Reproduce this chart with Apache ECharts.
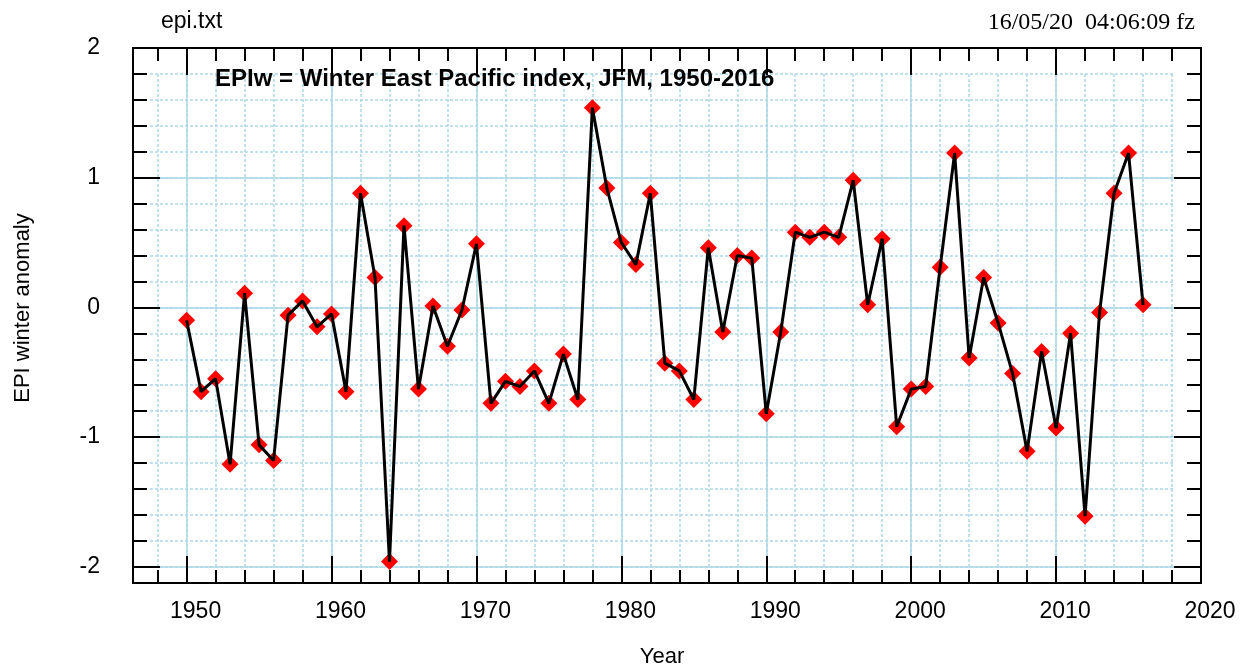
<!DOCTYPE html>
<html>
<head>
<meta charset="utf-8">
<script src="https://cdn.jsdelivr.net/npm/echarts@6/dist/echarts.min.js"></script>
<style>
html,body{margin:0;padding:0;background:#ffffff;}
#c{width:1242px;height:669px;}
</style>
</head>
<body>
<div id="c"></div>
<script>
// ---- data ----
const years = [1950,1951,1952,1953,1954,1955,1956,1957,1958,1959,
               1960,1961,1962,1963,1964,1965,1966,1967,1968,1969,
               1970,1971,1972,1973,1974,1975,1976,1977,1978,1979,
               1980,1981,1982,1983,1984,1985,1986,1987,1988,1989,
               1990,1991,1992,1993,1994,1995,1996,1997,1998,1999,
               2000,2001,2002,2003,2004,2005,2006,2007,2008,2009,
               2010,2011,2012,2013,2014,2015,2016];
const epiValues = [-0.10,-0.65,-0.55,-1.21,0.11,-1.06,-1.18,-0.06,0.05,-0.15,
                   -0.05,-0.65,0.88,0.23,-1.96,0.63,-0.63,0.01,-0.30,-0.02,
                   0.49,-0.74,-0.57,-0.61,-0.49,-0.74,-0.36,-0.71,1.54,0.92,
                   0.50,0.33,0.88,-0.43,-0.49,-0.71,0.46,-0.19,0.40,0.38,
                   -0.82,-0.19,0.58,0.54,0.58,0.54,0.98,0.02,0.53,-0.92,
                   -0.63,-0.61,0.31,1.19,-0.39,0.23,-0.12,-0.51,-1.11,-0.34,
                   -0.93,-0.20,-1.61,-0.04,0.88,1.19,0.02];
const xTickLabels = ['1950','1960','1970','1980','1990','2000','2010','2020'];
const yTickLabels = ['-2','-1','0','1','2'];
const fileLabel = 'epi.txt';
const stampLabel = '16/05/20  04:06:09 fz';
const titleText = 'EPIw = Winter East Pacific index, JFM, 1950-2016';
const xName = 'Year';
const yName = 'EPI winter anomaly';

// ---- layout ----
const W = 1242, H = 669;
const X_MIN = 1946.3, X_MAX = 2020, Y_MIN = -2.125, Y_MAX = 2;
const L = 133, R = 41, T = 48, B = 86;
const pw = W - L - R, ph = H - T - B;
const px = v => L + (v - X_MIN) / (X_MAX - X_MIN) * pw;
const py = v => T + (Y_MAX - v) / (Y_MAX - Y_MIN) * ph;

const FONT = '"Liberation Sans", Arial, Helvetica, sans-serif';
const SERIF = '"Liberation Serif", "Times New Roman", serif';
const GRIDC = '#add8e6';
const tickLine = {color:'#000', width:2};

const hLeft = 150, hRight = W - 1174;
const gTop = py(1.8), gBottom = H - py(-2);

const chart = echarts.init(document.getElementById('c'), null, {renderer:'canvas'});

const pts = years.map((y, i) => [y, epiValues[i]]);

function mainX(pos, step, len, withLabels) {
  return {
    type:'value', gridIndex:0, position:pos, min:X_MIN, max:X_MAX,
    minInterval:step, maxInterval:step,
    axisLine:{show:false, onZero:false}, splitLine:{show:false},
    axisTick:{show:true, inside:true, length:len, lineStyle:tickLine},
    axisLabel: withLabels ? {
      show:true, margin:17, fontFamily:FONT, fontSize:23, color:'#000',
      padding:[0,0,0,18], showMinLabel:true, showMaxLabel:true,
      formatter: v => xTickLabels.includes(String(v)) ? String(v) : ''
    } : {show:false}
  };
}
function mainY(pos, step, len, withLabels) {
  return {
    type:'value', gridIndex:0, position:pos, min:Y_MIN, max:Y_MAX,
    minInterval:step, maxInterval:step,
    axisLine:{show:false, onZero:false}, splitLine:{show:false},
    axisTick:{show:true, inside:true, length:len, lineStyle:tickLine},
    axisLabel: withLabels ? {
      show:true, margin:33, fontFamily:FONT, fontSize:23, color:'#000',
      showMinLabel:true, showMaxLabel:true,
      formatter: v => yTickLabels.includes(String(v)) ? String(v) : ''
    } : {show:false}
  };
}
function dummy(g) {
  return {type:'value', gridIndex:g, min:0, max:1, show:false};
}
function lineAxis(g, min, max, interval, dotted) {
  return {
    type:'value', gridIndex:g, min:min, max:max, interval:interval,
    axisLine:{show:false, onZero:false}, axisTick:{show:false}, axisLabel:{show:false},
    splitLine:{show:true, lineStyle:{color:GRIDC, width:1.5, type: dotted ? [3,2] : 'solid'}}
  };
}

const option = {
  animation:false,
  backgroundColor:'#ffffff',
  grid:[
    {left:L, right:R, top:T, bottom:B, show:true, borderColor:'#000', borderWidth:2, backgroundColor:'transparent', outerBoundsMode:'none', z:5},
    {left:hLeft, right:hRight, top:gTop, bottom:gBottom, outerBoundsMode:'none'},
    {left:hLeft, right:hRight, top:py(1), bottom:gBottom, outerBoundsMode:'none'},
    {left:px(1948), right:W - px(2018), top:gTop, bottom:gBottom, outerBoundsMode:'none'},
    {left:px(1950), right:W - px(2010), top:gTop, bottom:gBottom, outerBoundsMode:'none'}
  ],
  xAxis:[
    mainX('bottom', 2, 13, true),
    mainX('bottom', 10, 27, false),
    mainX('top', 2, 13, false),
    mainX('top', 10, 27, false),
    dummy(1),
    dummy(2),
    lineAxis(3, 1948, 2018, 2, true),
    lineAxis(4, 1950, 2010, 10, false)
  ],
  yAxis:[
    mainY('left', 0.2, 14, false),
    mainY('left', 1, 27, true),
    mainY('right', 0.2, 14, false),
    mainY('right', 1, 27, false),
    lineAxis(1, -2, 1.8, 0.2, true),
    lineAxis(2, -2, 1, 1, false),
    dummy(3),
    dummy(4)
  ],
  series:[
    {type:'scatter', xAxisIndex:0, yAxisIndex:0, data:pts, symbol:'diamond', symbolSize:17,
     itemStyle:{color:'#ff0000', opacity:1}, z:3, silent:true},
    {type:'line', xAxisIndex:0, yAxisIndex:0, data:pts, symbol:'none', showSymbol:false,
     lineStyle:{color:'#000', width:3}, z:4, silent:true}
  ],
  graphic:[
    {type:'text', x:161, y:22, style:{text:fileLabel, font:'23px ' + FONT, fill:'#000', align:'left', verticalAlign:'middle'}},
    {type:'text', x:1195, y:23, style:{text:stampLabel, font:'24px ' + SERIF, fill:'#000', align:'right', verticalAlign:'middle'}},
    {type:'text', x:215, y:79, z:10, style:{text:titleText, font:'bold 24px ' + FONT, fill:'#000', align:'left', verticalAlign:'middle'}},
    {type:'text', x:662, y:657, style:{text:xName, font:'22px ' + FONT, fill:'#000', align:'center', verticalAlign:'middle'}},
    {type:'text', x:23, y:308, rotation:Math.PI/2, style:{text:yName, font:'22px ' + FONT, fill:'#000', align:'center', verticalAlign:'middle'}}
  ]
};
chart.setOption(option);
</script>
</body>
</html>
